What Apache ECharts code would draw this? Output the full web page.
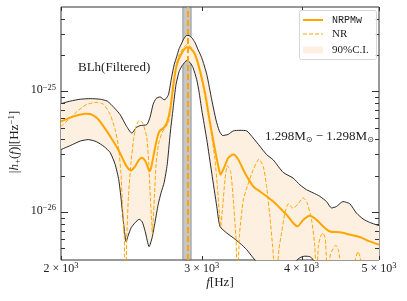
<!DOCTYPE html>
<html>
<head>
<meta charset="utf-8">
<script src="https://cdn.jsdelivr.net/npm/echarts@6.0.0/dist/echarts.min.js"></script>
<style>
html,body{margin:0;padding:0;background:#fff;}
#chart{width:407px;height:301px;}
</style>
</head>
<body>
<div id="chart"></div>
<script>
// ---------------- data ----------------
const upperFreq = [2000,2054,2114,2176,2239,2285,2332,2372,2413,2453,2484,2512,2561,2585,2608,2630,2661,2692,2707,2726,2752,2771,2792,2811,2833,2851,2874,2893,2918,2943,2968,3000,3044,3088,3126,3156,3187,3238,3286,3350,3415,3480,3548,3617,3687,3793,3904,3981,4058,4136,4216,4298,4361,4423,4508,4596,4685,4776,4868,5000];
const upperAmp = [7.9e-26,8.3e-26,8.6e-26,8.7e-26,8.6e-26,8.3e-26,7.3e-26,6.4e-26,5.2e-26,4.5e-26,5.0e-26,5.2e-26,5.3e-26,6.1e-26,7.8e-26,8.7e-26,9.0e-26,8.5e-26,8.7e-26,9.4e-26,1.33e-25,1.66e-25,1.95e-25,2.26e-25,2.52e-25,2.74e-25,2.91e-25,2.9e-25,2.76e-25,2.53e-25,2.22e-25,1.9e-25,1.38e-25,8.5e-26,5.8e-26,4.7e-26,4.3e-26,4.4e-26,4.7e-26,4.75e-26,4.7e-26,4.1e-26,3.5e-26,2.99e-26,2.7e-26,2.13e-26,1.91e-26,1.68e-26,1.53e-26,1.44e-26,1.35e-26,1.22e-26,1.08e-26,1.11e-26,1.22e-26,1.17e-26,9.8e-27,8.75e-27,8.2e-27,7.7e-27];

const lowerFreq = [2000,2054,2114,2163,2214,2265,2305,2338,2362,2379,2396,2413,2427,2448,2476,2505,2527,2549,2578,2600,2623,2646,2669,2692,2716,2739,2763,2786,2811,2835,2874,2901,2926,2957,2977,3000,3044,3088,3133,3162,3224,3286,3350,3415,3480,3527,3651,3867,3981,4038,4097,4144,4277,5000];
const lowerAmp = [3.29e-26,3.55e-26,3.87e-26,3.98e-26,3.83e-26,3.48e-26,3.1e-26,2.47e-26,1.85e-26,1.26e-26,7.85e-27,5.67e-27,6.36e-27,7.4e-27,8.15e-27,8.7e-27,8.3e-27,6.9e-27,5.16e-27,6.1e-27,8.3e-27,1.15e-26,1.45e-26,1.75e-26,2.47e-26,4.4e-26,7.3e-26,1.14e-25,1.46e-25,1.63e-25,1.8e-25,1.73e-25,1.57e-25,1.25e-25,9.9e-26,7.05e-26,3.98e-26,2.1e-26,1.11e-26,7.6e-27,6.7e-27,6.1e-27,5.5e-27,4.87e-27,4.16e-27,3.8e-27,3.3e-27,3.6e-27,4.18e-27,4.3e-27,4.26e-27,3.98e-27,3.2e-27,2.5e-27];

const nrpmwFreq = [2000,2074,2145,2176,2218,2261,2305,2349,2386,2413,2446,2476,2505,2527,2549,2567,2581,2593,2610,2636,2656,2687,2713,2739,2765,2792,2833,2874,2901,2943,2986,3029,3073,3117,3147,3168,3199,3238,3286,3333,3398,3480,3548,3617,3687,3758,3831,3904,3954,4018,4097,4177,4256,4340,4467,4596,4730,4868,5000];
const nrpmwAmp = [5.64e-26,6.2e-26,6.53e-26,6.5e-26,6.0e-26,5.13e-26,4.23e-26,3.45e-26,2.82e-26,2.42e-26,2.21e-26,2.39e-26,2.72e-26,2.82e-26,2.66e-26,2.38e-26,2.18e-26,2.33e-26,2.89e-26,3.98e-26,4.66e-26,4.97e-26,5.47e-26,7.05e-26,1.14e-25,1.66e-25,2.08e-25,2.32e-25,2.29e-25,2.02e-25,1.47e-25,9.7e-26,5.47e-26,3.29e-26,2.39e-26,2.04e-26,2.32e-26,2.8e-26,2.99e-26,2.72e-26,2.1e-26,1.63e-26,1.48e-26,1.35e-26,1.22e-26,1.08e-26,9.5e-27,8.1e-27,7.6e-27,8.6e-27,9.3e-27,8.6e-27,7.6e-27,6.9e-27,6.8e-27,6.5e-27,6.2e-27,5.7e-27,5.36e-27];

const nrFreq = [2000,2094,2155,2218,2261,2305,2338,2360,2377,2388,2400,2408,2417,2429,2446,2465,2484,2507,2531,2561,2576,2588,2597,2602,2608,2618,2630,2648,2674,2700,2726,2752,2779,2805,2846,2874,2915,2957,3000,3044,3088,3117,3138,3156,3168,3187,3208,3230,3261,3286,3312,3325,3345,3382,3421,3480,3538,3582,3617,3651,3680,3715,3747,3776,3813,3851,3904,3961,4018,4065,4117,4156,4177,4198,4228,4256,4284,4314,4345,4381,4415,4447,4485,4570,4663,4707,4737,4757,4868,5000];
const nrAmp = [5.1e-26,6.8e-26,7.8e-26,8.1e-26,7.8e-26,6.4e-26,4.8e-26,3.5e-26,2.1e-26,1.11e-26,5.9e-27,2e-27,5.9e-27,1.35e-26,2.47e-26,3.98e-26,5.19e-26,5.75e-26,5.47e-26,4.13e-26,2.47e-26,1.26e-26,8.3e-27,6.6e-27,8.3e-27,1.35e-26,2.47e-26,3.6e-26,4.5e-26,5.0e-26,5.47e-26,8.5e-26,1.42e-25,1.95e-25,2.29e-25,2.44e-25,2.29e-25,1.83e-25,1.25e-25,7.5e-26,4.23e-26,2.72e-26,1.63e-26,9.8e-27,7.55e-27,1.11e-26,1.85e-26,2.42e-26,2.16e-26,1.26e-26,5.9e-27,2.5e-27,6.5e-27,1.26e-26,1.63e-26,2.24e-26,2.74e-26,2.39e-26,1.63e-26,9.2e-27,5.2e-27,2.5e-27,4.87e-27,6.7e-27,9.8e-27,1.17e-26,1.07e-26,1.17e-26,1.31e-26,1.19e-26,8.6e-27,5.2e-27,2.5e-27,5.2e-27,6.36e-27,6.7e-27,5.9e-27,2.5e-27,4.4e-27,4.96e-27,5.3e-27,4.87e-27,3.45e-27,2.0e-27,3.87e-27,4.69e-27,4.18e-27,2.5e-27,2e-27,2.5e-27];

const bandFreq = [2841, 2910];
const peakFreq = [2878];

const xTickValues = [2000, 3000, 4000, 5000];
const xTickMantissa = ['2', '3', '4', '5'];
const yMajorTicks = [1e-26, 1e-25];
const yMajorExp = ['−26', '−25'];
const yMinorTicks = [5e-27,6e-27,7e-27,8e-27,9e-27,2e-26,3e-26,4e-26,5e-26,6e-26,7e-26,8e-26,9e-26,2e-25,3e-25,4e-25];

const legendNames = ['NRPMw', 'NR', '90%C.I.'];
// -----------------------------------------------------------------

const X_MIN = 2000, X_MAX = 5000, Y_MIN = 4e-27, Y_MAX = 5e-25;
const SERIF = "'Liberation Serif','DejaVu Serif',serif";
const ORANGE = '#ffa500';
const FILL = '#fdf0e1';
const INK = '#222';
const zip = (a, b) => a.map((v, i) => [v, b[i]]);

const chart = echarts.init(document.getElementById('chart'), null, {renderer: 'canvas'});

function tickSeries(vals, isY, len) {
  return {
    type: 'custom', coordinateSystem: 'cartesian2d', clip: false, silent: true, z: 20,
    data: vals.map(v => isY ? [X_MIN, v] : [v, Y_MIN]),
    renderItem: (params, api) => {
      const st = {stroke: '#333', lineWidth: 1};
      if (isY) {
        const v = api.value(1);
        const a = api.coord([X_MIN, v]), b = api.coord([X_MAX, v]);
        const y = Math.round(a[1]) + 0.5;
        return {type: 'group', children: [
          {type: 'line', shape: {x1: a[0], y1: y, x2: a[0] + len, y2: y}, style: st},
          {type: 'line', shape: {x1: b[0] - len, y1: y, x2: b[0], y2: y}, style: st}
        ]};
      } else {
        const v = api.value(0);
        const a = api.coord([v, Y_MIN]), b = api.coord([v, Y_MAX]);
        const x = Math.round(a[0]) + 0.5;
        return {type: 'group', children: [
          {type: 'line', shape: {x1: x, y1: a[1], x2: x, y2: a[1] - len}, style: st},
          {type: 'line', shape: {x1: x, y1: b[1], x2: x, y2: b[1] + len}, style: st}
        ]};
      }
    }
  };
}

const tickRich = {
  b: {fontSize: 12, fontFamily: SERIF, fill: INK},
  s: {fontSize: 8.5, fontFamily: SERIF, fill: INK, padding: [0, 0, 6, 0]}
};

const xLabelSeries = {
  type: 'custom', coordinateSystem: 'cartesian2d', clip: false, silent: true, z: 20,
  data: xTickValues.map(v => [v, Y_MIN]),
  renderItem: (params, api) => {
    const p = api.coord([api.value(0), Y_MIN]);
    return {type: 'text', x: p[0], y: p[1] + 9,
      style: {text: '{b|' + xTickMantissa[params.dataIndex] + ' × 10}{s|3}', rich: tickRich,
        align: 'center', verticalAlign: 'middle', fill: INK}};
  }
};

const yLabelSeries = {
  type: 'custom', coordinateSystem: 'cartesian2d', clip: false, silent: true, z: 20,
  data: yMajorTicks.map(v => [X_MIN, v]),
  renderItem: (params, api) => {
    const p = api.coord([X_MIN, api.value(1)]);
    return {type: 'text', x: p[0] - 5, y: p[1] - 1,
      style: {text: '{b|10}{s|' + yMajorExp[params.dataIndex] + '}', rich: tickRich,
        align: 'right', verticalAlign: 'middle', fill: INK}};
  }
};

const fillSeries = {
  type: 'custom', name: legendNames[2], coordinateSystem: 'cartesian2d', clip: true, silent: true, z: 1,
  data: [[X_MIN, Y_MIN]],
  renderItem: (params, api) => {
    const pts = [];
    for (let i = 0; i < upperFreq.length; i++) pts.push(api.coord([upperFreq[i], upperAmp[i]]));
    for (let i = lowerFreq.length - 1; i >= 0; i--) pts.push(api.coord([lowerFreq[i], lowerAmp[i]]));
    return {type: 'polygon', shape: {points: pts}, style: {fill: FILL, stroke: null}};
  }
};

const option = {
  animation: false,
  grid: {left: 61, right: 28, top: 7, bottom: 41, show: true, borderColor: '#333', borderWidth: 1,
    backgroundColor: 'transparent', containLabel: false, outerBoundsMode: 'none'},
  xAxis: {type: 'log', logBase: 10, min: X_MIN, max: X_MAX,
    axisLine: {show: false}, axisTick: {show: false}, axisLabel: {show: false}, splitLine: {show: false}},
  yAxis: {type: 'log', logBase: 10, min: Y_MIN, max: Y_MAX,
    axisLine: {show: false}, axisTick: {show: false}, axisLabel: {show: false}, splitLine: {show: false}},
  series: [
    fillSeries,
    {type: 'line', name: 'upper', data: zip(upperFreq, upperAmp), showSymbol: false, symbol: 'none',
      smooth: 0.2, lineStyle: {color: '#111', width: 0.9}, z: 3, silent: true},
    {type: 'line', name: 'lower', data: zip(lowerFreq, lowerAmp), showSymbol: false, symbol: 'none',
      smooth: 0.2, lineStyle: {color: '#111', width: 0.9}, z: 3, silent: true},
    {type: 'line', name: legendNames[1], data: zip(nrFreq, nrAmp), showSymbol: false, symbol: 'none',
      smooth: 0.2, lineStyle: {color: ORANGE, width: 1, type: [4, 2]}, z: 4, silent: true},
    {type: 'line', name: legendNames[0], data: zip(nrpmwFreq, nrpmwAmp), showSymbol: false, symbol: 'none',
      smooth: 0.25, lineStyle: {color: ORANGE, width: 2}, z: 5, silent: true,
      markArea: {silent: true, itemStyle: {color: 'rgba(140,140,140,0.5)', borderColor: 'rgba(110,110,110,0.6)', borderWidth: 1},
        data: [[{xAxis: bandFreq[0]}, {xAxis: bandFreq[1]}]]},
      markLine: {silent: true, symbol: ['none', 'none'], label: {show: false},
        lineStyle: {color: ORANGE, width: 2, type: [6, 3]}, data: [{xAxis: peakFreq[0]}]}},
    tickSeries(yMajorTicks, true, 7),
    tickSeries(yMinorTicks, true, 4),
    tickSeries(xTickValues, false, 4),
    xLabelSeries,
    yLabelSeries
  ],
  graphic: [
    {type: 'text', x: 15, y: 142, rotation: Math.PI / 2, silent: true,
      style: {text: '{n||}{i|h}{sb|+}{n|(}{i|f}{n|)|[Hz}{sp|−1}{n|]}',
        rich: {
          n: {fontSize: 13, fontFamily: SERIF, fill: INK},
          i: {fontSize: 13, fontFamily: SERIF, fontStyle: 'italic', fill: INK},
          sb: {fontSize: 9, fontFamily: SERIF, fill: INK, padding: [6, 0, 0, 0]},
          sp: {fontSize: 9, fontFamily: SERIF, fill: INK, padding: [0, 0, 7, 0]}
        }, align: 'center', verticalAlign: 'middle'}},
    {type: 'text', x: 220, y: 283, silent: true,
      style: {text: '{i|f}{n|[Hz]}',
        rich: {n: {fontSize: 13, fontFamily: SERIF, fill: INK},
               i: {fontSize: 13, fontFamily: SERIF, fontStyle: 'italic', fill: INK}},
        align: 'center', verticalAlign: 'middle'}},
    {type: 'text', x: 78, y: 68, silent: true,
      style: {text: 'BLh(Filtered)', font: '13px ' + SERIF, fill: INK, align: 'left', verticalAlign: 'middle'}},
    {type: 'text', x: 265, y: 137, silent: true,
      style: {text: '{n|1.298M}{s|⊙}{n| − 1.298M}{s|⊙}',
        rich: {n: {fontSize: 13, fontFamily: SERIF, fill: INK},
               s: {fontSize: 8, fontFamily: "'DejaVu Sans',sans-serif", fill: INK, padding: [6, 0, 0, 0]}},
        align: 'left', verticalAlign: 'middle'}},
    // legend
    {type: 'rect', silent: true, z: 50, shape: {x: 299.5, y: 10.5, width: 77, height: 49, r: 2},
      style: {fill: 'rgba(255,255,255,0.85)', stroke: '#d6d6d6', lineWidth: 1}},
    {type: 'line', silent: true, z: 51, shape: {x1: 303, y1: 20, x2: 323, y2: 20},
      style: {stroke: ORANGE, lineWidth: 2}},
    {type: 'line', silent: true, z: 51, shape: {x1: 303, y1: 34, x2: 323, y2: 34},
      style: {stroke: ORANGE, lineWidth: 1, lineDash: [4, 2]}},
    {type: 'rect', silent: true, z: 51, shape: {x: 303, y: 46.5, width: 20, height: 7},
      style: {fill: FILL}},
    {type: 'text', silent: true, z: 51, x: 332, y: 20,
      style: {text: legendNames[0], font: "10px 'Liberation Mono','DejaVu Sans Mono',monospace", fill: INK, align: 'left', verticalAlign: 'middle'}},
    {type: 'text', silent: true, z: 51, x: 332, y: 34,
      style: {text: legendNames[1], font: '11px ' + SERIF, fill: INK, align: 'left', verticalAlign: 'middle'}},
    {type: 'text', silent: true, z: 51, x: 332, y: 50,
      style: {text: legendNames[2], font: '11px ' + SERIF, fill: INK, align: 'left', verticalAlign: 'middle'}}
  ]
};

chart.setOption(option);
</script>
</body>
</html>
